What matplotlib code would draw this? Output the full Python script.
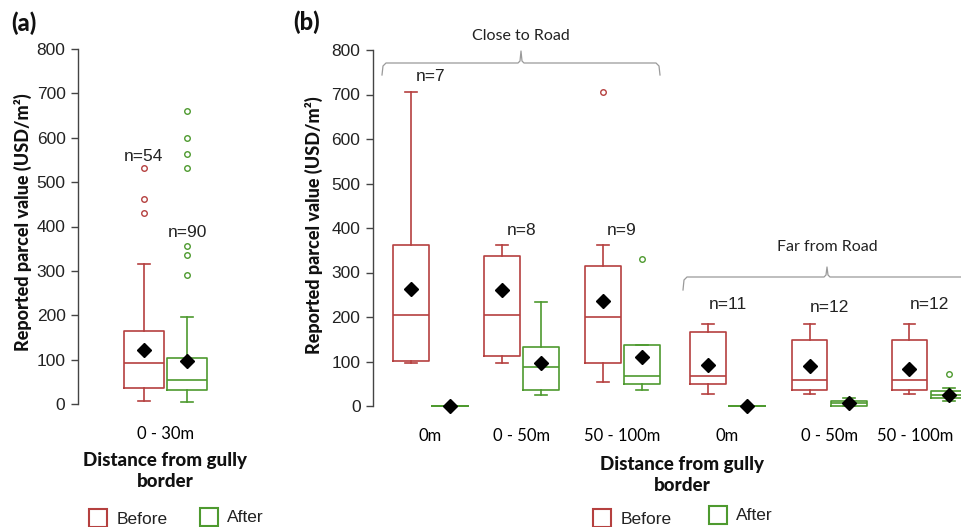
import matplotlib
matplotlib.use("Agg")
import matplotlib.pyplot as plt
from matplotlib.patches import Rectangle
from matplotlib.lines import Line2D

# ---------------- data ----------------
# Panel (a): 0 - 30m
a_category = ["0 - 30m"]
a_before = dict(whislo=7, q1=36, med=93, q3=165, whishi=315, mean=122, fliers=[430, 463, 532])
a_after = dict(whislo=4, q1=31, med=55, q3=103, whishi=196, mean=97,
               fliers=[290, 335, 357, 532, 563, 600, 660])
a_n = ["n=54", "n=90"]

# Panel (b)
b_categories = ["0m", "0 - 50m", "50 - 100m", "0m", "0 - 50m", "50 - 100m"]
b_groups = ["Close to Road", "Far from Road"]
b_before_whislo = [97, 97, 53, 27, 27, 27]
b_before_q1 = [101, 112, 97, 49, 37, 37]
b_before_med = [204, 204, 199, 67, 58, 58]
b_before_q3 = [362, 338, 315, 166, 149, 149]
b_before_whishi = [706, 362, 362, 185, 185, 185]
b_before_mean = [263, 261, 236, 92, 89, 84]
b_before_fliers = [[], [], [705], [], [], []]

b_after_whislo = [0, 25, 37, 0, 1, 12]
b_after_q1 = [0, 37, 49, 0, 1, 19]
b_after_med = [0, 88, 68, 0, 6, 25]
b_after_q3 = [0, 132, 136, 0, 11, 33]
b_after_whishi = [0, 234, 136, 0, 19, 40]
b_after_mean = [0, 96, 109, 0, 7, 25]
b_after_fliers = [[], [], [330], [], [], [72]]

b_n = ["n=7", "n=8", "n=9", "n=11", "n=12", "n=12"]
b_n_y = [741, 395, 395, 227, 222, 227]
a_n_y = [558, 387]

y_ticks = [0, 100, 200, 300, 400, 500, 600, 700, 800]
legend_labels = ["Before", "After"]

# ---------------- style ----------------
RED = "#B5403F"
GREEN = "#4E9A2F"
W, H = 961, 527
ARIAL = "Liberation Sans"
CALIBRI = "Lato"

fig = plt.figure(figsize=(W / 100, H / 100), dpi=100)


def fx(x):
    return x / W


def fy(y):
    return 1 - y / H


def make_axes(left, right, top, bottom):
    ax = fig.add_axes([fx(left), fy(bottom), fx(right) - fx(left), (bottom - top) / H])
    ax.set_ylim(0, 800)
    for s in ["top", "right", "bottom"]:
        ax.spines[s].set_visible(False)
    ax.spines["left"].set_color("#444444")
    ax.spines["left"].set_linewidth(1.0)
    ax.set_yticks(y_ticks)
    ax.set_yticklabels([str(t) for t in y_ticks], fontfamily=ARIAL, fontsize=12.5, color="#222222")
    ax.tick_params(axis="y", length=5, width=1.0, color="#444444", pad=4)
    ax.tick_params(axis="x", length=0, pad=16)
    ax.patch.set_alpha(0)
    return ax


def draw(ax, stats, positions, color, width, capw):
    props = dict(color=color, linewidth=1.2)
    art = ax.bxp(stats, positions=positions, widths=width, capwidths=capw,
                 showmeans=True, showfliers=True, patch_artist=False,
                 boxprops=props, whiskerprops=props, capprops=props,
                 medianprops=props,
                 meanprops=dict(marker="D", markerfacecolor="black", markeredgecolor="black",
                                markersize=7.5),
                 flierprops=dict(marker="o", markerfacecolor="none", markeredgecolor=color,
                                 markersize=4, markeredgewidth=1.0), manage_ticks=False)
    for k in art:
        for a in art[k]:
            a.set_clip_on(False)
    for m in art["means"]:
        m.set_zorder(5)


# ---------- panel (a) ----------
axa = make_axes(78, 253, 49, 404)
axa.set_xlim(0, 2)
pos_a = [1 - 0.246, 1 + 0.246]
draw(axa, [dict(a_before, label="")], [pos_a[0]], RED, 0.457, 0.137)
draw(axa, [dict(a_after, label="")], [pos_a[1]], GREEN, 0.457, 0.137)
axa.set_xticks([1])
axa.set_xticklabels(a_category, fontfamily=CALIBRI, fontsize=12)
for p, t, yy in zip(pos_a, a_n, a_n_y):
    axa.text(p, yy, t, ha="center", va="center", fontfamily=ARIAL, fontsize=12.5, color="#222222")

# ---------- panel (b) ----------
axb = make_axes(373, 961, 50, 406)
axb.set_xlim(0, (961 - 373) / 100)
centers = [0.575, 1.485, 2.49, 3.545, 4.56, 5.56]
label_pos = [0.57, 1.49, 2.49, 3.54, 4.57, 5.42]
off = 0.195
bw = 0.36
before_stats = [dict(whislo=b_before_whislo[i], q1=b_before_q1[i], med=b_before_med[i],
                     q3=b_before_q3[i], whishi=b_before_whishi[i], mean=b_before_mean[i],
                     fliers=b_before_fliers[i], label="") for i in range(6)]
after_stats = [dict(whislo=b_after_whislo[i], q1=b_after_q1[i], med=b_after_med[i],
                    q3=b_after_q3[i], whishi=b_after_whishi[i], mean=b_after_mean[i],
                    fliers=b_after_fliers[i], label="") for i in range(6)]
draw(axb, before_stats, [c - off for c in centers], RED, bw, 0.12)
draw(axb, after_stats, [c + off for c in centers], GREEN, bw, 0.12)
axb.set_xticks(label_pos)
axb.set_xticklabels(b_categories, fontfamily=CALIBRI, fontsize=12)
for c, t, yy in zip(centers, b_n, b_n_y):
    axb.text(c, yy, t, ha="center", va="center", fontfamily=ARIAL, fontsize=12.5, color="#222222")

# ---------- brackets ----------
BR = "#9a9a9a"


def bracket(x0, x1, xc, ybar, yend, ytip):
    xs = [x0, x0 + 1, x0 + 4, xc - 3, xc - 1, xc, xc + 1, xc + 3, x1 - 4, x1 - 1, x1]
    ys = [yend, ybar + 3, ybar, ybar, ybar - 2, ytip, ybar - 2, ybar, ybar, ybar + 3, yend]
    fig.add_artist(Line2D([fx(v) for v in xs], [fy(v) for v in ys], color=BR, lw=0.9,
                          transform=fig.transFigure))


bracket(382, 660, 521, 63, 75, 51)
bracket(683, 975, 827, 277, 290, 267)
fig.text(fx(521), fy(36), b_groups[0], ha="center", va="center", fontfamily=CALIBRI,
         fontsize=11.5, color="#222222")
fig.text(fx(827), fy(247), b_groups[1], ha="center", va="center", fontfamily=CALIBRI,
         fontsize=11.5, color="#222222")

# ---------- panel labels ----------
fig.text(fx(24), fy(23), "(a)", ha="center", va="center", fontfamily=CALIBRI,
         fontweight="black", fontsize=17, color="#111111")
fig.text(fx(307), fy(22), "(b)", ha="center", va="center", fontfamily=CALIBRI,
         fontweight="black", fontsize=17, color="#111111")

# ---------- axis labels ----------
ylab = "Reported parcel value (USD/m²)"
fig.text(fx(23), fy(222), ylab, rotation=90, ha="center", va="center", fontfamily=CALIBRI,
         fontweight="black", fontsize=13, color="#111111")
fig.text(fx(314), fy(225), ylab, rotation=90, ha="center", va="center", fontfamily=CALIBRI,
         fontweight="black", fontsize=13, color="#111111")
xlab = "Distance from gully\nborder"
fig.text(fx(165), fy(471), xlab, ha="center", va="center", fontfamily=CALIBRI,
         fontweight="black", fontsize=13.5, color="#111111", linespacing=1.35)
fig.text(fx(682), fy(475), xlab, ha="center", va="center", fontfamily=CALIBRI,
         fontweight="black", fontsize=13.5, color="#111111", linespacing=1.35)

# ---------- legends ----------
def legend_item(x, y, color, label, tx):
    fig.add_artist(Rectangle((fx(x), fy(y + 18)), 18 / W, 18 / H, transform=fig.transFigure,
                             facecolor="white", edgecolor=color, lw=1.5))
    fig.text(fx(tx), fy(y + 10), label, ha="left", va="center", fontfamily=ARIAL,
             fontsize=12.5, color="#222222")


legend_item(89, 509, RED, legend_labels[0], 117)
legend_item(200, 508, GREEN, legend_labels[1], 227)
legend_item(593, 509, RED, legend_labels[0], 621)
legend_item(709, 506, GREEN, legend_labels[1], 736)

fig.savefig("out.png", dpi=100)
